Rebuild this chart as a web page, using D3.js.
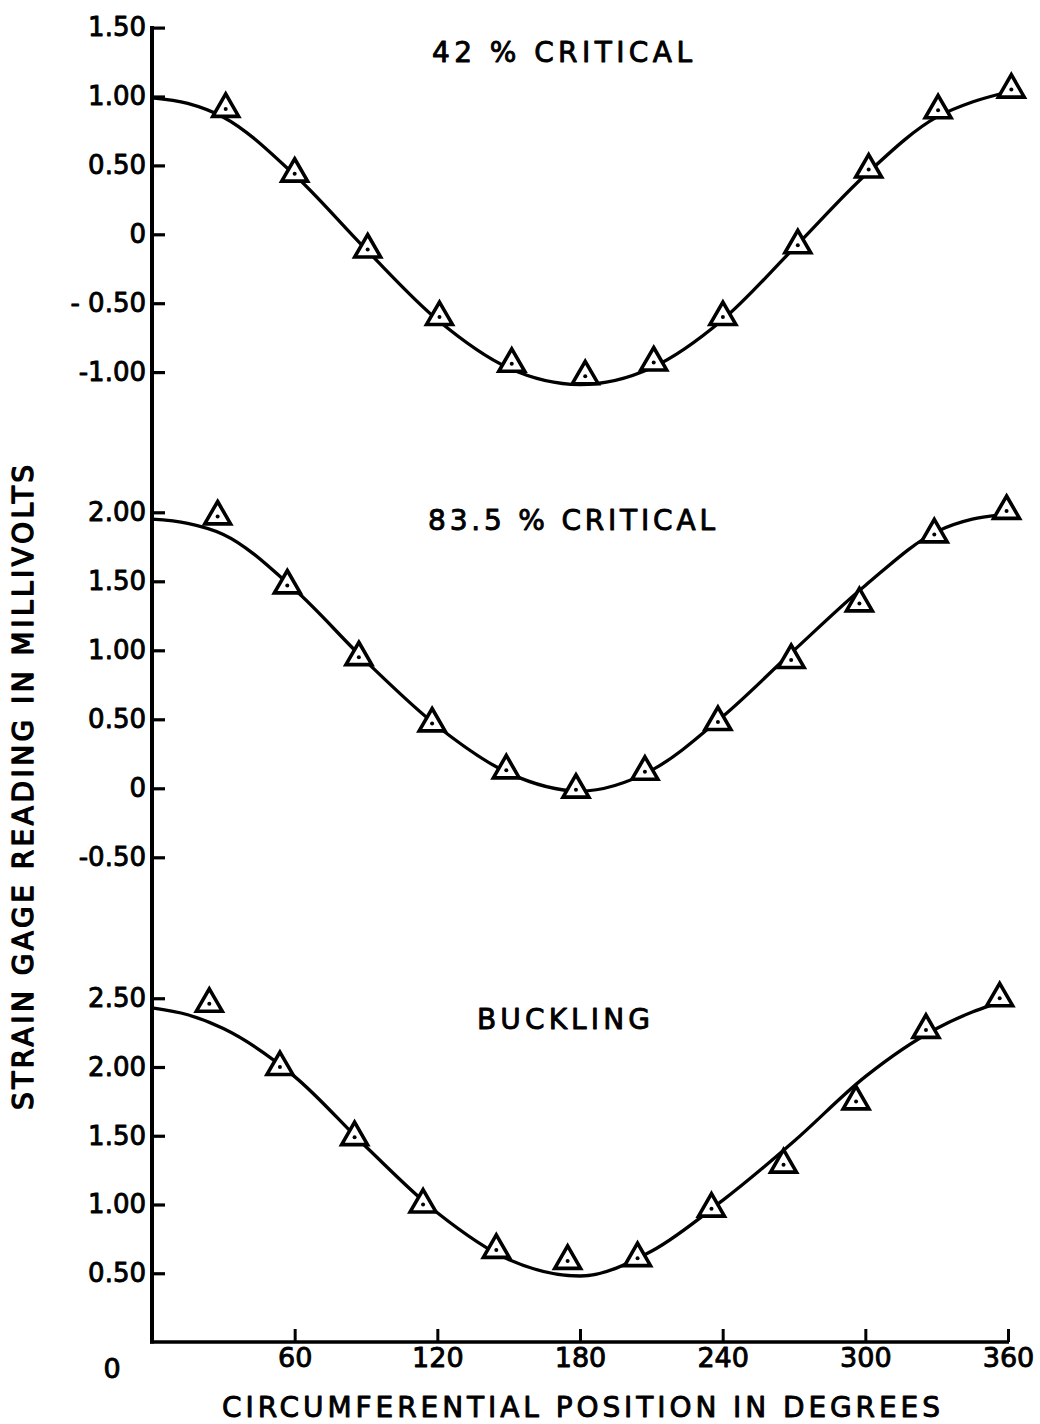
<!DOCTYPE html>
<html>
<head>
<meta charset="utf-8">
<script src="https://cdn.jsdelivr.net/npm/d3@7"></script>
<style>
  html, body { margin: 0; padding: 0; background: #fff; }
  svg { display: block; }
  text { font-family: "DejaVu Sans", sans-serif; fill: #000; }
</style>
</head>
<body>
<svg id="chart" width="1040" height="1424"></svg>
<script>
// Circumferential positions shared by all three load levels
const xTickValues = [60, 120, 180, 240, 300, 360];
const xTickLabels = ["60", "120", "180", "240", "300", "360"];
const xZeroLabel = "0";

// 42 % critical load
const deg42 = [31, 60, 90.7, 120.9, 151.3, 182.2, 211, 240.1, 271.6, 301.4, 330.6, 361.4];
const val42 = [0.91, 0.44, -0.11, -0.60, -0.94, -1.03, -0.93, -0.60, -0.08, 0.47, 0.90, 1.05];
const fit42Deg = [0, 15, 30, 60, 90, 120, 150, 180, 210, 240, 270, 300, 330, 345, 357];
const fit42Val = [0.99, 0.95, 0.85, 0.43, -0.11, -0.62, -0.97, -1.09, -0.97, -0.62, -0.10, 0.43, 0.85, 0.96, 1.02];
const ticks42 = [1.5, 1.0, 0.5, 0, -0.5, -1.0];
const tickLabels42 = ["1.50", "1.00", "0.50", "0", "- 0.50", "-1.00"];

// 83.5 % critical load
const deg835 = [27.6, 56.9, 87, 117.8, 149, 178.3, 207.3, 238, 268.8, 297.5, 329, 359.4];
const val835 = [1.97, 1.47, 0.95, 0.47, 0.13, -0.01, 0.12, 0.48, 0.93, 1.34, 1.84, 2.01];
const fit835Deg = [0, 15, 30, 60, 90, 120, 150, 180, 210, 240, 270, 300, 330, 345, 356];
const fit835Val = [1.95, 1.92, 1.84, 1.44, 0.92, 0.45, 0.11, -0.02, 0.13, 0.52, 1.00, 1.47, 1.86, 1.95, 1.98];
const ticks835 = [2.0, 1.5, 1.0, 0.5, 0, -0.5];
const tickLabels835 = ["2.00", "1.50", "1.00", "0.50", "0", "-0.50"];

// At buckling
const degBuck = [24.1, 53.8, 85.2, 114, 144.8, 174.8, 204.2, 235.3, 265.6, 296.1, 325.5, 356.5];
const valBuck = [2.46, 2.00, 1.49, 1.00, 0.67, 0.59, 0.61, 0.97, 1.29, 1.75, 2.27, 2.50];
const fitBuckDeg = [0, 15, 30, 60, 90, 120, 150, 180, 210, 240, 270, 300, 330, 345, 353];
const fitBuckVal = [2.43, 2.38, 2.28, 1.93, 1.42, 0.94, 0.60, 0.48, 0.66, 1.03, 1.46, 1.93, 2.28, 2.40, 2.45];
const ticksBuck = [2.5, 2.0, 1.5, 1.0, 0.5];
const tickLabelsBuck = ["2.50", "2.00", "1.50", "1.00", "0.50"];

const panelTitles = ["42 % CRITICAL", "83.5 % CRITICAL", "BUCKLING"];
const xTitle = "CIRCUMFERENTIAL POSITION IN DEGREES";
const yTitle = "STRAIN GAGE READING IN MILLIVOLTS";

const svg = d3.select("#chart");
const ink = "#000";

const axisX = 152;
const baseY = 1342;
const x = d3.scaleLinear().domain([0, 360]).range([axisX, 1008]);

const panels = [
  { deg: deg42, val: val42, fitDeg: fit42Deg, fitVal: fit42Val, ticks: ticks42, labels: tickLabels42,
    domain: [-1.0, 1.5], range: [372.1, 27.6], title: panelTitles[0], tx: 432, ty: 62, tw: 260 },
  { deg: deg835, val: val835, fitDeg: fit835Deg, fitVal: fit835Val, ticks: ticks835, labels: tickLabels835,
    domain: [-0.5, 2.0], range: [857.3, 512.3], title: panelTitles[1], tx: 428, ty: 530, tw: 287 },
  { deg: degBuck, val: valBuck, fitDeg: fitBuckDeg, fitVal: fitBuckVal, ticks: ticksBuck, labels: tickLabelsBuck,
    domain: [0, 2.5], range: [baseY, 998.25], title: panelTitles[2], tx: 477, ty: 1029, tw: 173 }
];

// Lettering style: regular weight thickened with a thin outline
function letter(sel, size) {
  sel.attr("font-size", size)
    .attr("font-weight", "normal")
    .style("font-family", "'DejaVu Sans', sans-serif")
    .attr("fill", ink)
    .attr("stroke", ink)
    .attr("stroke-width", 0.9)
    .attr("stroke-linejoin", "round");
  return sel;
}

// Continuous vertical axis line shared by the three panels
svg.append("line")
  .attr("x1", axisX).attr("x2", axisX)
  .attr("y1", 26).attr("y2", baseY + 1.5)
  .attr("stroke", ink).attr("stroke-width", 4);

// Horizontal axis
svg.append("line")
  .attr("x1", axisX - 2).attr("x2", x(360) + 1)
  .attr("y1", baseY).attr("y2", baseY)
  .attr("stroke", ink).attr("stroke-width", 3.5);

const xAxis = d3.axisBottom(x)
  .tickValues(xTickValues)
  .tickFormat((d, i) => xTickLabels[i])
  .tickSize(-13)
  .tickPadding(6);

const gx = svg.append("g").attr("transform", `translate(0,${baseY})`).call(xAxis);
gx.select(".domain").remove();
gx.selectAll(".tick line").attr("stroke", ink).attr("stroke-width", 3);
letter(gx.selectAll(".tick text"), 27);

letter(svg.append("text")
  .attr("x", x(0) - 40).attr("y", 1378)
  .attr("text-anchor", "middle"), 27)
  .text(xZeroLabel);

const tri = d3.symbol().type(d3.symbolTriangle).size(290);

panels.forEach(p => {
  const y = d3.scaleLinear().domain(p.domain).range(p.range);

  const yAxis = d3.axisLeft(y)
    .tickValues(p.ticks)
    .tickFormat((d, i) => p.labels[i])
    .tickSize(-13)
    .tickPadding(6);

  const gy = svg.append("g").attr("transform", `translate(${axisX},0)`).call(yAxis);
  gy.select(".domain").remove();
  gy.selectAll(".tick line").attr("stroke", ink).attr("stroke-width", 3.2);
  letter(gy.selectAll(".tick text"), 26);

  // Fitted curve
  const fit = p.fitDeg.map((d, i) => [d, p.fitVal[i]]);
  const line = d3.line()
    .x(d => x(d[0]))
    .y(d => y(d[1]))
    .curve(d3.curveMonotoneX);
  svg.append("path")
    .datum(fit)
    .attr("d", line)
    .attr("fill", "none")
    .attr("stroke", ink)
    .attr("stroke-width", 3.3)
    .attr("stroke-linecap", "round");

  // Measured readings: open triangles with a centre dot
  const pts = p.deg.map((d, i) => ({ deg: d, v: p.val[i] }));
  const g = svg.append("g");
  g.selectAll("path.pt")
    .data(pts).join("path")
    .attr("class", "pt")
    .attr("transform", d => `translate(${x(d.deg)},${y(d.v)})`)
    .attr("d", tri)
    .attr("fill", "#fff")
    .attr("stroke", ink)
    .attr("stroke-width", 3.6)
    .attr("stroke-linejoin", "miter");
  g.selectAll("circle.dot")
    .data(pts).join("circle")
    .attr("class", "dot")
    .attr("cx", d => x(d.deg))
    .attr("cy", d => y(d.v))
    .attr("r", 2)
    .attr("fill", ink);

  letter(svg.append("text")
    .attr("x", p.tx).attr("y", p.ty)
    .attr("textLength", p.tw)
    .attr("lengthAdjust", "spacing"), 28)
    .text(p.title);
});

// Axis titles
letter(svg.append("text")
  .attr("x", 222).attr("y", 1417)
  .attr("textLength", 718)
  .attr("lengthAdjust", "spacing"), 28)
  .text(xTitle);

letter(svg.append("text")
  .attr("transform", "translate(33,787.5) rotate(-90)")
  .attr("text-anchor", "middle")
  .attr("textLength", 645)
  .attr("lengthAdjust", "spacing"), 28)
  .attr("stroke-width", 1.4)
  .text(yTitle);
</script>
</body>
</html>
